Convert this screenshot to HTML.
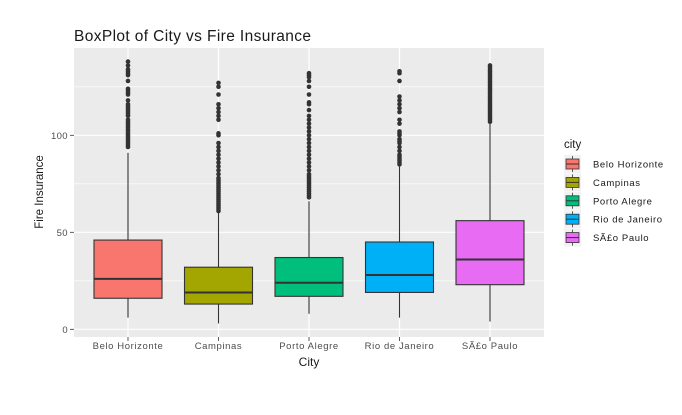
<!DOCTYPE html>
<html><head><meta charset="utf-8"><style>
body{margin:0;background:#fff;}
svg{font-family:"Liberation Sans",sans-serif;}
</style></head><body>
<svg id="chart" width="682" height="410" xmlns="http://www.w3.org/2000/svg">
<text x="74" y="41" font-size="15.5" textLength="237" fill="#1a1a1a">BoxPlot of City vs Fire Insurance</text>
<rect x="74" y="48" width="470" height="289" fill="#ebebeb"/>
<g id="grid"></g><g id="boxes"></g><g id="axes"></g>
<text x="309" y="366" font-size="12" text-anchor="middle" fill="#1a1a1a">City</text>
<text transform="translate(43,192) rotate(-90)" font-size="11.5" text-anchor="middle" fill="#1a1a1a">Fire Insurance</text>
<text x="564" y="148" font-size="11.5" fill="#1a1a1a">city</text>
<g id="legend"></g>
</svg>
<script>
const categories=["Belo Horizonte","Campinas","Porto Alegre","Rio de Janeiro","SÃ£o Paulo"];
const colors=["#F8766D","#A3A500","#00BF7D","#00B0F6","#E76BF3"];
const q1=[16,13,17,19,23];
const medians=[26,19,24,28,36];
const q3=[46,32,37,45,56];
const whiskLow=[6,3,8,6,4];
const whiskHigh=[91,60,66,84,106];
const outliers=[
[94,95,96,97,98,99,100,101,102,103,104,105,106,107,108,110,111,112,113,114,115,116,118,121,122,123,124,128,131,132,133,134,136,138],
[61,62,63,64,65,66,67,68,69,70,71,72,73,74,75,76,77,78,80,82,84,86,88,90,92,94,96,100,101,108,110,112,114,116,121,125,127],
[68,69,70,71,72,73,74,75,76,77,78,79,80,82,84,86,88,90,92,94,96,98,100,102,104,106,108,110,113,116,117,121,125,128,130,131,132],
[85,86,87,88,89,90,92,94,96,97,98,100,101,102,106,108,112,114,116,118,120,128,132,133],
[107,108,109,110,111,112,113,114,115,116,117,118,119,120,121,122,123,124,125,126,127,128,129,130,131,132,133,134,135,136]
];
const yTicks=[0,50,100];
const yMinor=[25,75,125];
const NS="http://www.w3.org/2000/svg";
const yScale=v=>329.3-v*1.94;
function xc(i){return 128+i*90.5;}
function mk(tag,attrs,parent){const e=document.createElementNS(NS,tag);for(const k in attrs)e.setAttribute(k,attrs[k]);parent.appendChild(e);return e;}
const grid=document.getElementById('grid'),boxes=document.getElementById('boxes'),axes=document.getElementById('axes'),legend=document.getElementById('legend');
yMinor.forEach(v=>{const l=mk('line',{x1:74,x2:544,y1:yScale(v),y2:yScale(v),stroke:'#fff','stroke-width':0.6},grid);

});
yTicks.forEach(v=>{const l=mk('line',{x1:74,x2:544,y1:yScale(v),y2:yScale(v),stroke:'#fff','stroke-width':1.2},grid);


const t=mk('line',{x1:70,x2:74,y1:yScale(v),y2:yScale(v),stroke:'#333','stroke-width':0.8},axes);


const tx=mk('text',{x:68,y:yScale(v)+3.5,'font-size':9.5,'letter-spacing':0.4,'text-anchor':'end',fill:'#4d4d4d'},axes);tx.textContent=v;

});
categories.forEach((c,i)=>{const x=xc(i);
const g=mk('line',{x1:x,x2:x,y1:48,y2:337,stroke:'#fff','stroke-width':1.2},grid);


const t=mk('line',{x1:x,x2:x,y1:337,y2:341,stroke:'#333','stroke-width':0.8},axes);


const tx=mk('text',{x:x,y:349,'font-size':9.5,'letter-spacing':0.6,'text-anchor':'middle',fill:'#4d4d4d'},axes);tx.textContent=c;


const bg=mk('g',{},boxes);


mk('line',{x1:x,x2:x,y1:yScale(whiskLow[i]),y2:yScale(q1[i]),stroke:'#333','stroke-width':1.1},bg);
mk('line',{x1:x,x2:x,y1:yScale(q3[i]),y2:yScale(whiskHigh[i]),stroke:'#333','stroke-width':1.1},bg);
mk('rect',{x:x-34,y:yScale(q3[i]),width:68,height:yScale(q1[i])-yScale(q3[i]),fill:colors[i],stroke:'#333','stroke-width':1.1},bg);
mk('line',{x1:x-34,x2:x+34,y1:yScale(medians[i]),y2:yScale(medians[i]),stroke:'#333','stroke-width':2},bg);
outliers[i].forEach(v=>{const p=mk('circle',{cx:x,cy:yScale(v),r:2.3,fill:'#333'},bg);

});
const ly=164+i*18.4;
const lg=mk('g',{},legend);


mk('rect',{x:564,y:ly-9,width:17,height:18,fill:'#f2f2f2'},lg);
mk('line',{x1:572.5,x2:572.5,y1:ly-8,y2:ly+8,stroke:'#333','stroke-width':0.8},lg);
mk('rect',{x:566,y:ly-5,width:13,height:10,fill:colors[i],stroke:'#333','stroke-width':0.8},lg);
mk('line',{x1:566,x2:579,y1:ly,y2:ly,stroke:'#333','stroke-width':1},lg);
const lt=mk('text',{x:593,y:ly+3.5,'font-size':9.5,'letter-spacing':0.6,fill:'#1a1a1a'},lg);lt.textContent=c;
});
</script>
</body></html>
